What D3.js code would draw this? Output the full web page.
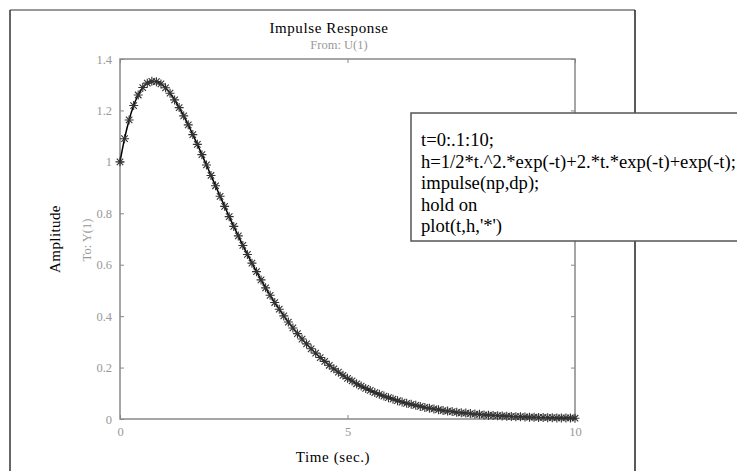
<!DOCTYPE html>
<html lang="en">
<head>
  <meta charset="UTF-8" />
  <title>Impulse Response</title>
  <script src="https://d3js.org/d3.v7.min.js"></script>
  <style>
    body { margin: 0; padding: 0; background: #fff; }
    svg { display: block; font-family: 'Liberation Serif', 'Times New Roman', serif; }
    .tick text { fill: #999; font-size: 12.5px; }
  </style>
</head>
<body>
  <div id="chart"></div>
  <script>
    // time vector t = 0:.1:10
    const times = [
      0.0, 0.1, 0.2, 0.3, 0.4, 0.5, 0.6, 0.7, 0.8, 0.9,
      1.0, 1.1, 1.2, 1.3, 1.4, 1.5, 1.6, 1.7, 1.8, 1.9,
      2.0, 2.1, 2.2, 2.3, 2.4, 2.5, 2.6, 2.7, 2.8, 2.9,
      3.0, 3.1, 3.2, 3.3, 3.4, 3.5, 3.6, 3.7, 3.8, 3.9,
      4.0, 4.1, 4.2, 4.3, 4.4, 4.5, 4.6, 4.7, 4.8, 4.9,
      5.0, 5.1, 5.2, 5.3, 5.4, 5.5, 5.6, 5.7, 5.8, 5.9,
      6.0, 6.1, 6.2, 6.3, 6.4, 6.5, 6.6, 6.7, 6.8, 6.9,
      7.0, 7.1, 7.2, 7.3, 7.4, 7.5, 7.6, 7.7, 7.8, 7.9,
      8.0, 8.1, 8.2, 8.3, 8.4, 8.5, 8.6, 8.7, 8.8, 8.9,
      9.0, 9.1, 9.2, 9.3, 9.4, 9.5, 9.6, 9.7, 9.8, 9.9,
      10.0
    ];
    // amplitude h at each time (stars and the impulse curve)
    const amplitude = [
      1.000, 1.090, 1.163, 1.219, 1.260, 1.289, 1.306, 1.313, 1.312, 1.303,
      1.288, 1.267, 1.241, 1.211, 1.179, 1.144, 1.106, 1.068, 1.028, 0.988,
      0.947, 0.907, 0.866, 0.827, 0.787, 0.749, 0.712, 0.675, 0.640, 0.606,
      0.573, 0.541, 0.510, 0.481, 0.453, 0.427, 0.401, 0.377, 0.354, 0.332,
      0.311, 0.292, 0.273, 0.256, 0.239, 0.224, 0.209, 0.195, 0.182, 0.170,
      0.158, 0.148, 0.137, 0.128, 0.119, 0.111, 0.103, 0.096, 0.089, 0.083,
      0.077, 0.071, 0.066, 0.061, 0.057, 0.053, 0.049, 0.045, 0.042, 0.039,
      0.036, 0.033, 0.031, 0.029, 0.026, 0.024, 0.023, 0.021, 0.019, 0.018,
      0.016, 0.015, 0.014, 0.013, 0.012, 0.011, 0.010, 0.009, 0.009, 0.008,
      0.007, 0.007, 0.006, 0.006, 0.005, 0.005, 0.004, 0.004, 0.004, 0.004,
      0.003
    ];
    const xTicks = [0, 5, 10];
    const yTicks = [0, 0.2, 0.4, 0.6, 0.8, 1, 1.2, 1.4];
    const codeLines = [
      "t=0:.1:10;",
      "h=1/2*t.^2.*exp(-t)+2.*t.*exp(-t)+exp(-t);",
      "impulse(np,dp);",
      "hold on",
      "plot(t,h,'*')"
    ];

    const width = 737, height = 471;
    const plot = { left: 120, right: 575, top: 59, bottom: 419 };

    const svg = d3.select("#chart").append("svg")
      .attr("width", width)
      .attr("height", height);

    // figure frame (top, left, right edges)
    svg.append("line").attr("x1", 10).attr("x2", 635).attr("y1", 10).attr("y2", 10)
      .attr("stroke", "#777").attr("stroke-width", 1.5);
    svg.append("line").attr("x1", 10).attr("x2", 10).attr("y1", 10).attr("y2", height)
      .attr("stroke", "#333").attr("stroke-width", 1.5);
    svg.append("line").attr("x1", 635).attr("x2", 635).attr("y1", 10).attr("y2", height)
      .attr("stroke", "#222").attr("stroke-width", 1.5);

    const x = d3.scaleLinear().domain([0, 10]).range([plot.left, plot.right]);
    const y = d3.scaleLinear().domain([0, 1.4]).range([plot.bottom, plot.top]);

    // axes box
    svg.append("rect")
      .attr("x", plot.left).attr("y", plot.top)
      .attr("width", plot.right - plot.left).attr("height", plot.bottom - plot.top)
      .attr("fill", "none").attr("stroke", "#888").attr("stroke-width", 1.5);

    // axes with inward ticks
    const xAxis = svg.append("g").attr("transform", `translate(0,${plot.bottom})`)
      .call(d3.axisBottom(x).tickValues(xTicks).tickSizeInner(-4).tickSizeOuter(0).tickPadding(8));
    const xTop = svg.append("g").attr("transform", `translate(0,${plot.top})`)
      .call(d3.axisTop(x).tickValues(xTicks).tickSizeInner(-4).tickSizeOuter(0).tickFormat(""));
    const yAxis = svg.append("g").attr("transform", `translate(${plot.left},0)`)
      .call(d3.axisLeft(y).tickValues(yTicks).tickSizeInner(-4).tickSizeOuter(0).tickPadding(8)
        .tickFormat(d => d3.format("~g")(d)));
    const yRight = svg.append("g").attr("transform", `translate(${plot.right},0)`)
      .call(d3.axisRight(y).tickValues(yTicks).tickSizeInner(-4).tickSizeOuter(0).tickFormat(""));
    [xAxis, xTop, yAxis, yRight].forEach(g => {
      g.select(".domain").remove();
      g.selectAll(".tick line").attr("stroke", "#888");
      g.selectAll(".tick text").attr("font-family", "'Liberation Serif', serif");
    });

    const pts = times.map((t, i) => [t, amplitude[i]]);

    // impulse response curve
    svg.append("path")
      .datum(pts)
      .attr("fill", "none")
      .attr("stroke", "#000")
      .attr("stroke-width", 1.5)
      .attr("d", d3.line().x(d => x(d[0])).y(d => y(d[1])).curve(d3.curveMonotoneX));

    // '*' markers
    const r = 4.5, rd = r * 0.72;
    const star = `M${-r},0L${r},0M0,${-r}L0,${r}M${-rd},${-rd}L${rd},${rd}M${-rd},${rd}L${rd},${-rd}`;
    svg.append("g").selectAll("path")
      .data(pts)
      .enter().append("path")
      .attr("transform", d => `translate(${x(d[0])},${y(d[1])})`)
      .attr("d", star)
      .attr("fill", "none")
      .attr("stroke", "#333")
      .attr("stroke-width", 1.1);

    // titles and labels
    svg.append("text").attr("x", 329).attr("y", 33).attr("text-anchor", "middle")
      .attr("font-size", 15).attr("letter-spacing", 0.6).attr("fill", "#000").text("Impulse Response");
    svg.append("text").attr("x", 339).attr("y", 49).attr("text-anchor", "middle")
      .attr("font-size", 12.5).attr("fill", "#999").text("From: U(1)");
    svg.append("text").attr("x", 333).attr("y", 462).attr("text-anchor", "middle")
      .attr("font-size", 15).attr("letter-spacing", 0.6).attr("fill", "#000").text("Time (sec.)");
    svg.append("text").attr("transform", "translate(60,239) rotate(-90)").attr("text-anchor", "middle")
      .attr("font-size", 15).attr("letter-spacing", 0.4).attr("fill", "#000").text("Amplitude");
    svg.append("text").attr("transform", "translate(91,240) rotate(-90)").attr("text-anchor", "middle")
      .attr("font-size", 12.5).attr("fill", "#999").text("To: Y(1)");

    // code annotation box
    svg.append("rect")
      .attr("x", 411).attr("y", 113).attr("width", 340).attr("height", 128)
      .attr("fill", "#fff").attr("stroke", "#555").attr("stroke-width", 1.5);
    svg.append("g").selectAll("text")
      .data(codeLines)
      .enter().append("text")
      .attr("x", 421)
      .attr("y", (d, i) => 146 + i * 21.5)
      .attr("font-size", 18.6)
      .attr("fill", "#000")
      .text(d => d);
  </script>
</body>
</html>
